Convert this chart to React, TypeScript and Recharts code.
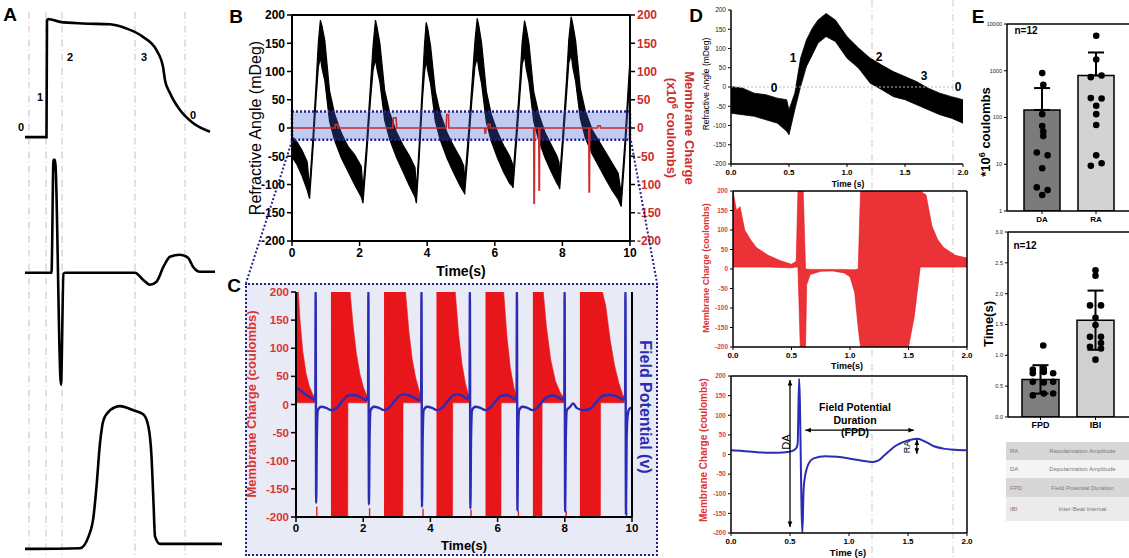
import React from "react";
import {
  ComposedChart,
  LineChart,
  Line,
  Area,
  Bar,
  Cell,
  ErrorBar,
  Scatter,
  XAxis,
  YAxis,
  ReferenceLine,
  ReferenceArea,
} from "recharts";

const FONT = '"Liberation Sans", Arial, Helvetica, sans-serif';

// ---------- panel A : schematic traces (time in ms) ----------
const aPhaseTimes = [8, 42, 74, 220, 320];
const apTime = [0, 43, 44, 47, 70, 116, 170, 203, 236, 263, 276, 280, 290, 310, 336, 370];
const apMv = [-90, -90, 20, 21, 18.4, 16.9, 16.2, 12.2, 4.3, -8.2, -23.9, -36.4, -48.6, -64.6, -76.8, -85];
const fpTime = [0, 53, 57, 60, 72, 77, 80, 220, 236, 250, 263, 277, 290, 310, 326, 336, 350, 380];
const fpMv = [0, 0, 1.13, 1.13, -1.12, -0.01, 0, 0, -0.07, -0.12, -0.09, 0.06, 0.16, 0.18, 0.15, 0.06, 0.01, 0.01];
const caTime = [0, 110, 127, 137, 143, 150, 157, 170, 190, 217, 237, 247, 253, 257, 260, 270, 394];
const caRatio = [0, 0.005, 0.088, 0.23, 0.445, 0.755, 0.92, 0.99, 1.02, 0.99, 0.96, 0.87, 0.66, 0.33, 0.09, 0.036, 0.036];

// ---------- panel B : refractive angle envelope + membrane charge ----------
const bTime = [
  0, 0.15, 0.3, 0.45, 0.52, 0.62, 0.72, 0.78, 0.84, 0.89, 0.97, 1.11, 1.26, 1.46, 1.66, 1.85, 2.05, 2.1,
  2.2, 2.32, 2.4, 2.47, 2.52, 2.6, 2.74, 2.89, 3.09, 3.29, 3.48, 3.64, 3.68,
  3.76, 3.86, 3.92, 3.97, 4.02, 4.1, 4.24, 4.39, 4.59, 4.79, 4.98, 5.08, 5.11,
  5.2, 5.32, 5.41, 5.48, 5.53, 5.61, 5.75, 5.9, 6.08, 6.26, 6.44, 6.52, 6.54,
  6.62, 6.74, 6.81, 6.88, 6.93, 7.01, 7.15, 7.3, 7.48, 7.66, 7.84, 7.9, 7.92,
  8.0, 8.12, 8.19, 8.26, 8.31, 8.39, 8.53, 8.68, 8.88, 9.08, 9.28, 9.48, 9.65, 9.74,
  9.85, 10.0,
];
const bLow = [
  -51, -65, -85, -110, -125, -38, 58, 108, 125, 105, 84, 12, -22, -53, -77, -100, -122, -133,
  -56, 48, 103, 122, 103, 81, 14, -20, -52, -78, -103, -122, -133,
  -56, 51, 98, 120, 100, 78, 12, -22, -54, -80, -103, -113, -116,
  -49, 48, 108, 125, 103, 78, 10, -24, -53, -78, -98, -103, -106,
  -42, 56, 113, 128, 105, 81, 12, -22, -52, -76, -98, -104, -108,
  -44, 56, 116, 130, 107, 83, 17, -18, -46, -68, -90, -111, -126, -139,
  -46, 94,
];
const bHigh = [
  -15, -25, -40, -60, -105, -16, 86, 152, 191, 180, 155, 66, 25, -9, -33, -47, -68, -108,
  -34, 74, 147, 191, 177, 150, 67, 27, -7, -31, -50, -70, -110,
  -34, 79, 147, 187, 175, 145, 65, 25, -9, -33, -53, -67, -94,
  -26, 74, 152, 194, 180, 150, 65, 23, -7, -31, -50, -63, -83,
  -20, 82, 152, 190, 177, 150, 65, 25, -7, -29, -50, -61, -86,
  -22, 84, 157, 197, 183, 155, 70, 30, -3, -23, -43, -63, -80, -116,
  -24, 124,
];
const bRedTime = [
  0, 1.27, 1.28, 1.36, 1.37, 2.98, 3.0, 3.08, 3.1, 4.56, 4.58, 4.63, 4.64, 5.7, 5.71, 5.73, 5.74,
  5.79, 5.8, 5.86, 5.87, 7.15, 7.16, 7.17, 7.18, 7.3, 7.31, 7.32, 7.33, 8.78, 8.79, 8.8, 8.81,
  9.04, 9.05, 9.12, 9.13, 10,
];
const bRedCharge = [
  0, 0, 6, 6, 0, 0, 18, 18, 0, 0, 24, 24, 0, 0, -9, -9, 0,
  0, 7, 7, 0, 0, -133, -133, 0, 0, -110, -110, 0, 0, -113, -113, 0,
  0, 4, 4, 0, 0,
];
const chargeTicks = [-200, -150, -100, -50, 0, 50, 100, 150, 200];
const bTimeTicks = [0, 2, 4, 6, 8, 10];

// ---------- panel C : membrane charge bands [t, low, high] + field potential ----------
const cChargeBands: [number, number | null, number | null][] = [
  [0, 3, 200], [0.07, 3, 200], [0.12, 3, 150], [0.2, 3, 95], [0.3, 3, 55], [0.4, 3, 32], [0.5, 3, 18], [0.56, 3, 12], [0.565, null, null],
  [0.6, -200, -182], [0.64, -200, -182], [0.645, null, null],
  [1.04, -200, 200], [1.54, -200, 200], [1.545, 3, 200], [1.61, 3, 200], [1.7, 3, 140], [1.8, 3, 90], [1.9, 3, 55], [2.0, 3, 32], [2.12, 3, 14], [2.125, null, null],
  [2.17, -200, -185], [2.21, -200, -185], [2.215, null, null],
  [2.62, -200, 200], [3.18, -200, 200], [3.185, 3, 200], [3.26, 3, 200], [3.36, 3, 130], [3.46, 3, 80], [3.56, 3, 48], [3.66, 3, 26], [3.72, 3, 12], [3.725, null, null],
  [3.76, -200, -186], [3.8, -200, -186], [3.805, null, null],
  [4.18, -200, 200], [4.66, -200, 200], [4.665, 3, 200], [4.74, 3, 200], [4.84, 3, 125], [4.94, 3, 72], [5.04, 3, 38], [5.15, 3, 14], [5.155, null, null],
  [5.19, -200, -188], [5.23, -200, -188], [5.235, null, null],
  [5.64, -200, 200], [6.1, -200, 200], [6.105, 3, 200], [6.18, 3, 200], [6.28, 3, 120], [6.38, 3, 65], [6.48, 3, 32], [6.56, 3, 14], [6.565, null, null],
  [6.6, -200, -190], [6.64, -200, -190], [6.645, null, null],
  [7.05, -200, 200], [7.32, -200, 200], [7.325, 3, 200], [7.36, 3, 200], [7.45, 3, 140], [7.58, 3, 80], [7.72, 3, 42], [7.86, 3, 22], [7.98, 3, 10], [7.985, null, null],
  [8.02, -200, -190], [8.06, -200, -190], [8.065, null, null],
  [8.45, -200, 200], [9.06, -200, 200], [9.065, 3, 200], [9.12, 3, 200], [9.22, 3, 175], [9.35, 3, 115], [9.48, 3, 70], [9.6, 3, 40], [9.72, 3, 18], [9.78, 3, 10], [9.785, null, null],
  [9.82, -200, -190], [9.86, -200, -190], [9.865, null, null],
];
const cFieldPotential: [number, number][] = [
  [0, 30], [0.15, 24], [0.3, 17], [0.45, 12], [0.55, 9], [0.575, 20], [0.585, 200], [0.6, -175], [0.62, -60], [0.65, -10],
  [0.75, -4], [0.9, -6], [1.05, -10], [1.2, -7], [1.35, 4], [1.5, 14], [1.65, 17], [1.8, 16], [1.95, 12], [2.1, 8],
  [2.145, 18], [2.155, 200], [2.17, -178], [2.19, -60], [2.22, -10], [2.32, -4], [2.47, -6], [2.62, -10], [2.77, -6], [2.92, 5],
  [3.07, 15], [3.22, 18], [3.37, 16], [3.52, 12], [3.68, 8], [3.725, 18], [3.735, 200], [3.75, -182], [3.77, -60], [3.8, -10],
  [3.9, -4], [4.05, -6], [4.2, -10], [4.35, -6], [4.5, 5], [4.65, 15], [4.8, 18], [4.95, 16], [5.08, 10], [5.165, 18],
  [5.175, 200], [5.19, -185], [5.21, -60], [5.24, -10], [5.34, -4], [5.49, -6], [5.64, -10], [5.79, -5], [5.94, 6], [6.09, 15],
  [6.24, 17], [6.39, 14], [6.52, 9], [6.565, 18], [6.575, 200], [6.59, -188], [6.61, -60], [6.64, -10], [6.74, -4], [6.89, -6],
  [7.04, -10], [7.19, -5], [7.34, 6], [7.49, 14], [7.64, 16], [7.79, 13], [7.93, 9], [7.985, 18], [7.995, 200], [8.01, -190],
  [8.03, -60], [8.06, -10], [8.16, -4], [8.25, 2], [8.35, -6], [8.55, -10], [8.75, -8], [8.95, 5], [9.15, 16], [9.35, 17],
  [9.55, 14], [9.75, 9], [9.795, 18], [9.805, 200], [9.82, -195], [9.84, -60], [9.87, -20], [9.92, -8], [10, -5],
];

// ---------- panel D : single beat ----------
const dRefraction: [number, number, number][] = [
  [0, -68, 1], [0.1, -72, -3], [0.2, -76, -16], [0.3, -85, -20], [0.4, -94, -29], [0.48, -115, -33], [0.5, -124, -59],
  [0.55, -59, -16], [0.6, 1, 75], [0.65, 53, 122], [0.7, 83, 152], [0.75, 114, 174], [0.82, 131, 191], [0.9, 118, 174],
  [1.0, 75, 131], [1.1, 49, 101], [1.2, 10, 75], [1.3, -7, 57], [1.4, -25, 40], [1.5, -33, 27], [1.6, -46, 14],
  [1.7, -59, -3], [1.8, -72, -16], [1.9, -81, -25], [2.0, -94, -33],
];
const dCharge: [number, number, number][] = [
  [0, 5, 200], [0.03, 5, 150], [0.06, 5, 160], [0.1, 5, 100], [0.15, 5, 75], [0.2, 5, 55], [0.3, 5, 35], [0.4, 4, 22],
  [0.5, 3, 12], [0.54, 5, 20], [0.555, 5, 200], [0.575, -200, 200], [0.6, -200, 200], [0.62, -200, 0], [0.63, -40, 0],
  [0.66, -14, -1], [0.75, -6, -1], [0.85, -5, -1], [0.95, -10, -1], [1.0, -20, -2], [1.04, -60, -2], [1.07, -150, 0],
  [1.09, -200, 200], [1.5, -200, 200], [1.55, -120, 200], [1.6, 5, 200], [1.65, 5, 190], [1.7, 5, 110], [1.75, 5, 75],
  [1.8, 5, 55], [1.9, 5, 35], [2.0, 5, 28],
];
const dField: [number, number][] = [
  [0, 10.6], [0.1, 9], [0.2, 6.4], [0.3, 4.7], [0.4, 4.7], [0.48, 6.4], [0.53, 10.6], [0.555, 17], [0.565, 28],
  [0.577, 193], [0.605, -200], [0.615, -90], [0.625, -60], [0.64, -38], [0.66, -22], [0.7, -10], [0.8, -4.3], [0.9, -6],
  [1.0, -10], [1.1, -15], [1.2, -19], [1.25, -15], [1.3, -2], [1.4, 23], [1.5, 36], [1.58, 40], [1.65, 32], [1.72, 21],
  [1.8, 15], [1.9, 12], [2.0, 10.6],
];
const dTimeTicks = [0, 0.5, 1, 1.5, 2];

// ---------- panel E : summary bars ----------
const eTopCats = ["DA", "RA"];
const eTopMean = [145, 794];
const eTopSdUp = [281, 1666];
const daDots = [890, 500, 118, 66, 50, 40, 17.8, 15.5, 8.2, 3.2, 2.8, 2.2];
const raDots = [5600, 1730, 730, 790, 260, 255, 178, 118, 69, 15.5, 9.3, 10.5];
const daJitter = [0, 0.02, 0, 0, 0.02, 0.02, -0.1, 0.1, 0, -0.1, 0.1, 0];
const raJitter = [0, 0, -0.1, 0.1, -0.1, 0.1, 0, 0, 0, 0, -0.1, 0.1];
const eBotCats = ["FPD", "IBI"];
const eBotMean = [0.61, 1.57];
const eBotSd = [0.23, 0.48];
const fpdDots = [1.16, 0.77, 0.78, 0.71, 0.73, 0.71, 0.57, 0.56, 0.57, 0.35, 0.38, 0.38];
const ibiDots = [2.38, 2.29, 1.81, 1.81, 1.61, 1.49, 1.3, 1.3, 1.2, 1.14, 1.11, 0.93];
const fpdJitter = [0.05, -0.14, 0.06, -0.14, 0.06, 0.23, -0.14, 0.06, 0.23, -0.14, 0.06, 0.23];
const ibiJitter = [0, 0, -0.1, 0.1, 0, 0, -0.1, 0.1, 0.1, -0.1, 0.1, 0];
const tableRows = [
  ["RA", "Repolarization Amplitude"],
  ["DA", "Depolarization Amplitude"],
  ["FPD", "Field Potential Duration"],
  ["IBI", "Inter-Beat Interval"],
];

// ---------- row builders ----------
const aRows = [
  ...apTime.map((t, i) => ({ t, ap: apMv[i] })),
  ...fpTime.map((t, i) => ({ t, fp: fpMv[i] })),
  ...caTime.map((t, i) => ({ t, ca: caRatio[i] })),
].sort((a, b) => a.t - b.t);
const bRows = bTime.map((t, i) => ({ t, band: [bLow[i], bHigh[i]] }));
const bRedRows = bRedTime.map((t, i) => ({ t, q: bRedCharge[i] }));
const bandRows = (list: [number, number | null, number | null][]) =>
  list.map(([t, lo, hi]) => ({ t, band: lo == null ? null : [lo, hi] }));
const cRows = bandRows(cChargeBands);
const cFpRows = cFieldPotential.map(([t, v]) => ({ t, v }));
const dTopRows = bandRows(dRefraction);
const dMidRows = bandRows(dCharge);
const dBotRows = dField.map(([t, v]) => ({ t, v }));
const eTopRows = eTopCats.map((name, i) => ({ x: i + 1, name, mean: eTopMean[i], err: [0, eTopSdUp[i]] }));
const eBotRows = eBotCats.map((name, i) => ({ x: i + 1, name, mean: eBotMean[i], err: eBotSd[i] }));
const daPts = daDots.map((y, i) => ({ x: 1 + daJitter[i], y }));
const raPts = raDots.map((y, i) => ({ x: 2 + raJitter[i], y }));
const fpdPts = fpdDots.map((y, i) => ({ x: 1 + fpdJitter[i], y }));
const ibiPts = ibiDots.map((y, i) => ({ x: 2 + ibiJitter[i], y }));

const RED = "#cc2d2d";
const BRIGHT_RED = "#e8161b";
const BLUE = "#2b2bb5";
const NAVY = "#23238a";

const tk = (size: number, fill = "#000", fontWeight: number = 700) => ({ fontSize: size, fill, fontWeight, fontFamily: FONT });
const axLine = (w = 2) => ({ stroke: "#000", strokeWidth: w });

const Txt = ({ x, y, size = 12, color = "#000", weight = 700, rotate = 0, children }: any) => (
  <div
    style={{
      position: "absolute",
      left: x,
      top: y,
      transform: `translate(-50%, -50%) rotate(${rotate}deg)`,
      fontSize: size,
      color,
      fontWeight: weight,
      whiteSpace: "nowrap",
      lineHeight: 1,
      fontFamily: FONT,
    }}
  >
    {children}
  </div>
);

const Dot = (p: any) => <circle cx={p.cx} cy={p.cy} r={3.3} fill="#000" />;

// line with arrow heads at both ends (annotation in D)
const Arrow = (p: any) => {
  const { x1, y1, x2, y2 } = p;
  const a = Math.atan2(y2 - y1, x2 - x1);
  const head = (x: number, y: number, ang: number) => {
    const s = 6;
    return `${x},${y} ${x - s * Math.cos(ang - 0.4)},${y - s * Math.sin(ang - 0.4)} ${x - s * Math.cos(ang + 0.4)},${y - s * Math.sin(ang + 0.4)}`;
  };
  return (
    <g>
      <line x1={x1} y1={y1} x2={x2} y2={y2} stroke="#000" strokeWidth={1.3} />
      <polygon points={head(x2, y2, a)} fill="#000" />
      <polygon points={head(x1, y1, a + Math.PI)} fill="#000" />
    </g>
  );
};

const Abs = ({ x, y, children }: any) => <div style={{ position: "absolute", left: x, top: y }}>{children}</div>;

export default function App() {
  return (
    <div
      style={{
        position: "absolute",
        left: 0,
        top: 0,
        width: 1129,
        height: 558,
        overflow: "hidden",
        background: "#fff",
        fontFamily: FONT,
      }}
    >
      {/* guide lines across panel D */}
      <svg width={1129} height={558} style={{ position: "absolute", left: 0, top: 0 }}>
        <line x1={872} y1={0} x2={872} y2={558} stroke="#cbcbcb" strokeWidth={1} strokeDasharray="7 3 1 3" />
        <line x1={953} y1={0} x2={953} y2={558} stroke="#cbcbcb" strokeWidth={1} strokeDasharray="7 3 1 3" />
      </svg>

      {/* C zoom box background */}
      <div
        style={{
          position: "absolute",
          left: 245,
          top: 283,
          width: 413,
          height: 273,
          background: "#e8ebf6",
          border: `2px dotted ${NAVY}`,
          boxSizing: "border-box",
        }}
      />

      {/* ---------------- A ---------------- */}
      <Abs x={0} y={0}>
        <LineChart data={aRows} width={230} height={558} margin={{ top: 0, right: 0, bottom: 0, left: 0 }}>
          <XAxis type="number" dataKey="t" domain={[-50, 410]} hide />
          <YAxis yAxisId="ap" hide domain={[-486, 39]} />
          <YAxis yAxisId="fp" hide domain={[-2.853, 2.727]} />
          <YAxis yAxisId="ca" hide domain={[-0.065, 3.921]} />
          {aPhaseTimes.map((g) => (
            <ReferenceLine
              key={g}
              yAxisId="ap"
              segment={[{ x: g, y: 28 }, { x: g, y: -486 }]}
              stroke="#c2c2c2"
              strokeWidth={1}
              strokeDasharray="7 3 1 3"
            />
          ))}
          <Line yAxisId="ap" dataKey="ap" connectNulls type="monotone" stroke="#000" strokeWidth={2.6} dot={false} activeDot={false} isAnimationActive={false} />
          <Line yAxisId="fp" dataKey="fp" connectNulls type="monotone" stroke="#000" strokeWidth={2.6} dot={false} activeDot={false} isAnimationActive={false} />
          <Line yAxisId="ca" dataKey="ca" connectNulls type="monotone" stroke="#000" strokeWidth={2.6} dot={false} activeDot={false} isAnimationActive={false} />
        </LineChart>
      </Abs>
      <Txt x={10} y={14} size={19}>A</Txt>
      <Txt x={21} y={127} size={11}>0</Txt>
      <Txt x={40} y={97} size={11}>1</Txt>
      <Txt x={70} y={57} size={11}>2</Txt>
      <Txt x={144} y={57} size={11}>3</Txt>
      <Txt x={193} y={115} size={11}>0</Txt>

      {/* ---------------- B ---------------- */}
      <Abs x={230} y={0}>
        <ComposedChart width={450} height={280} margin={{ top: 15, right: 10, bottom: 9, left: 22 }}>
          <XAxis
            type="number"
            dataKey="t"
            domain={[0, 10]}
            ticks={bTimeTicks}
            height={30}
            allowDataOverflow
            axisLine={axLine(2)}
            tickLine={axLine(1.5)}
            tickSize={5}
            tick={tk(12)}
          />
          <YAxis
            yAxisId="l"
            domain={[-200, 200]}
            ticks={chargeTicks}
            width={40}
            allowDataOverflow
            axisLine={axLine(2)}
            tickLine={axLine(1.5)}
            tickSize={5}
            tick={tk(12)}
          />
          <YAxis
            yAxisId="r"
            orientation="right"
            domain={[-200, 200]}
            ticks={chargeTicks}
            width={40}
            allowDataOverflow
            axisLine={axLine(2)}
            tickLine={axLine(1.5)}
            tickSize={5}
            tick={tk(12, RED)}
          />
          <ReferenceLine yAxisId="l" y={200} stroke="#000" strokeWidth={2} />
          <Area yAxisId="l" data={bRows} dataKey="band" type="linear" fill="#000" fillOpacity={1} stroke="#000" strokeWidth={1.2} isAnimationActive={false} />
          <Line yAxisId="r" data={bRedRows} dataKey="q" type="linear" stroke={RED} strokeWidth={1.6} dot={false} isAnimationActive={false} />
          <ReferenceArea
            yAxisId="l"
            x1={0}
            x2={10}
            y1={-21}
            y2={29}
            fill="#3d5bd4"
            fillOpacity={0.32}
            stroke={NAVY}
            strokeWidth={2.5}
            strokeDasharray="2 2"
            ifOverflow="visible"
          />
        </ComposedChart>
      </Abs>
      <Txt x={236} y={16} size={19}>B</Txt>
      <Txt x={256} y={128} size={16} weight={400} rotate={-90}>Refractive Angle (mDeg)</Txt>
      <Txt x={461} y={271} size={14}>Time(s)</Txt>
      <Txt x={689} y={128} size={13} color={RED} rotate={90}>Membrane Charge</Txt>
      <Txt x={672} y={128} size={13} color={RED} rotate={90}>
        (x10<sup style={{ fontSize: 9 }}>6</sup> coulombs)
      </Txt>

      {/* ---------------- C ---------------- */}
      <Abs x={245} y={283}>
        <ComposedChart width={413} height={272} margin={{ top: 9, right: 25, bottom: 18, left: 15 }}>
          <XAxis
            type="number"
            dataKey="t"
            domain={[0, 10]}
            ticks={bTimeTicks}
            height={20}
            allowDataOverflow
            axisLine={axLine(2)}
            tickLine={axLine(1.5)}
            tickSize={5}
            tick={tk(11.5)}
          />
          <YAxis
            yAxisId="l"
            domain={[-200, 200]}
            ticks={chargeTicks}
            width={36}
            allowDataOverflow
            axisLine={axLine(2)}
            tickLine={axLine(1.5)}
            tickSize={5}
            tick={tk(11.5, "#d33")}
          />
          <YAxis yAxisId="r" orientation="right" domain={[-200, 200]} width={1} tick={false} tickLine={false} axisLine={axLine(2)} allowDataOverflow />
          <Area yAxisId="l" data={cRows} dataKey="band" type="linear" fill={BRIGHT_RED} fillOpacity={1} stroke={BRIGHT_RED} strokeWidth={0.6} isAnimationActive={false} />
          <Line yAxisId="r" data={cFpRows} dataKey="v" type="monotone" stroke={BLUE} strokeWidth={2.4} dot={false} isAnimationActive={false} />
        </ComposedChart>
      </Abs>
      <Txt x={234} y={285} size={19}>C</Txt>
      <Txt x={251} y={404} size={13} color="#d33" rotate={-90}>Membrane Charge (coulombs)</Txt>
      <Txt x={645} y={407} size={16} color={BLUE} rotate={90}>Field Potential (v)</Txt>
      <Txt x={464} y={545} size={13}>Time(s)</Txt>

      {/* ---------------- D top ---------------- */}
      <Abs x={690} y={0}>
        <ComposedChart width={290} height={190} margin={{ top: 10, right: 17, bottom: 12, left: 13 }}>
          <XAxis
            type="number"
            dataKey="t"
            domain={[0, 2]}
            ticks={dTimeTicks}
            tickFormatter={(v: number) => v.toFixed(1)}
            height={14}
            allowDataOverflow
            axisLine={axLine(1.5)}
            tickLine={axLine(1)}
            tickSize={3}
            tick={tk(8)}
          />
          <YAxis
            domain={[-200, 200]}
            ticks={chargeTicks}
            width={28}
            allowDataOverflow
            axisLine={axLine(1.5)}
            tickLine={axLine(1)}
            tickSize={3}
            tick={tk(6.5, "#222", 400)}
          />
          <ReferenceLine y={0} stroke="#bbb" strokeDasharray="2 2" />
          <Area data={dTopRows} dataKey="band" type="linear" fill="#000" fillOpacity={1} stroke="#000" strokeWidth={0.8} isAnimationActive={false} />
        </ComposedChart>
      </Abs>
      <Txt x={696} y={15} size={19}>D</Txt>
      <Txt x={706} y={84} size={8.5} weight={400} rotate={-90}>Refractive Angle (mDeg)</Txt>
      <Txt x={848} y={184} size={8.5}>Time (s)</Txt>
      <Txt x={774} y={88} size={12}>0</Txt>
      <Txt x={793} y={58} size={12}>1</Txt>
      <Txt x={879} y={57} size={12}>2</Txt>
      <Txt x={924} y={76} size={12}>3</Txt>
      <Txt x={958} y={87} size={12}>0</Txt>

      {/* ---------------- D middle ---------------- */}
      <Abs x={690} y={180}>
        <ComposedChart width={290} height={190} margin={{ top: 11, right: 13, bottom: 9, left: 15 }}>
          <XAxis
            type="number"
            dataKey="t"
            domain={[0, 2]}
            ticks={dTimeTicks}
            tickFormatter={(v: number) => v.toFixed(1)}
            height={14}
            allowDataOverflow
            axisLine={axLine(1.5)}
            tickLine={axLine(1)}
            tickSize={3}
            tick={tk(8)}
          />
          <YAxis
            domain={[-200, 200]}
            ticks={chargeTicks}
            width={28}
            allowDataOverflow
            axisLine={axLine(1.5)}
            tickLine={axLine(1)}
            tickSize={3}
            tick={tk(6.5, "#d44")}
          />
          <Area data={dMidRows} dataKey="band" type="linear" fill={BRIGHT_RED} fillOpacity={0.88} stroke={BRIGHT_RED} strokeWidth={0.6} isAnimationActive={false} />
          <ReferenceLine y={200} stroke="#000" strokeWidth={1.5} />
          <ReferenceLine x={2} stroke="#000" strokeWidth={1.5} />
        </ComposedChart>
      </Abs>
      <Txt x={706} y={268} size={9} color="#d33" rotate={-90}>Membrane Charge (coulombs)</Txt>
      <Txt x={847} y={366} size={9}>Time(s)</Txt>

      {/* ---------------- D bottom ---------------- */}
      <Abs x={690} y={360}>
        <ComposedChart width={290} height={198} margin={{ top: 16, right: 13, bottom: 11, left: 13 }}>
          <XAxis
            type="number"
            dataKey="t"
            domain={[0, 2]}
            ticks={dTimeTicks}
            tickFormatter={(v: number) => v.toFixed(1)}
            height={14}
            allowDataOverflow
            axisLine={axLine(1.5)}
            tickLine={axLine(1)}
            tickSize={3}
            tick={tk(8)}
          />
          <YAxis
            domain={[-200, 200]}
            ticks={chargeTicks}
            width={28}
            allowDataOverflow
            axisLine={axLine(1.5)}
            tickLine={axLine(1)}
            tickSize={3}
            tick={tk(6.5, "#d44")}
          />
          <ReferenceLine y={200} stroke="#000" strokeWidth={1.5} />
          <ReferenceLine x={2} stroke="#000" strokeWidth={1.5} />
          <Line data={dBotRows} dataKey="v" type="monotone" stroke={BLUE} strokeWidth={2} dot={false} isAnimationActive={false} />
          <ReferenceLine segment={[{ x: 0.5, y: 190 }, { x: 0.5, y: -185 }]} shape={Arrow} />
          <ReferenceLine segment={[{ x: 0.63, y: 62 }, { x: 1.55, y: 62 }]} shape={Arrow} />
          <ReferenceLine segment={[{ x: 1.575, y: 38 }, { x: 1.575, y: 2 }]} shape={Arrow} />
        </ComposedChart>
      </Abs>
      <Txt x={704} y={450} size={10} color="#d33" rotate={-90}>Membrane Charge (coulombs)</Txt>
      <Txt x={848} y={553} size={9.5}>Time (s)</Txt>
      <Txt x={786} y={442} size={11} weight={400} rotate={-90}>DA</Txt>
      <Txt x={855} y={407} size={10.5}>Field Potential</Txt>
      <Txt x={855} y={420} size={10.5}>Duration</Txt>
      <Txt x={855} y={432} size={10.5}>(FPD)</Txt>
      <Txt x={907} y={447} size={9} weight={400} rotate={-90}>RA</Txt>

      {/* ---------------- E top ---------------- */}
      <Abs x={960} y={0}>
        <ComposedChart data={eTopRows} width={190} height={225} margin={{ top: 24, right: 0, bottom: 0, left: 15 }}>
          <XAxis
            xAxisId="cat"
            type="category"
            dataKey="name"
            padding={{ left: 8, right: 27 }}
            height={14}
            axisLine={axLine(1.5)}
            tickLine={axLine(1)}
            tickSize={3}
            tick={tk(8)}
          />
          <XAxis xAxisId="num" type="number" dataKey="x" domain={[0.348, 2.996]} hide allowDataOverflow />
          <YAxis
            scale="log"
            domain={[1, 10000]}
            ticks={[1, 10, 100, 1000, 10000]}
            width={32}
            allowDataOverflow
            axisLine={axLine(1.5)}
            tickLine={axLine(1)}
            tickSize={3}
            tick={tk(5.5, "#222", 400)}
          />
          <ReferenceLine xAxisId="cat" y={10000} stroke="#000" strokeWidth={1.5} />
          <Bar xAxisId="cat" dataKey="mean" barSize={36} stroke="#000" strokeWidth={1.5} isAnimationActive={false}>
            {eTopRows.map((r, i) => (
              <Cell key={r.name} fill={i === 0 ? "#7b7b7b" : "#d3d3d3"} />
            ))}
            <ErrorBar dataKey="err" direction="y" width={8} stroke="#000" strokeWidth={2} />
          </Bar>
          <Scatter xAxisId="num" data={daPts} dataKey="y" shape={Dot} isAnimationActive={false} />
          <Scatter xAxisId="num" data={raPts} dataKey="y" shape={Dot} isAnimationActive={false} />
        </ComposedChart>
      </Abs>
      <Txt x={978} y={16} size={19}>E</Txt>
      <Txt x={1026} y={31} size={10}>n=12</Txt>
      <Txt x={985} y={132} size={13} rotate={-90}>
        *10<sup style={{ fontSize: 9 }}>6</sup> coulombs
      </Txt>

      {/* ---------------- E bottom ---------------- */}
      <Abs x={960} y={220}>
        <ComposedChart data={eBotRows} width={190} height={220} margin={{ top: 12, right: 0, bottom: 3, left: 15 }}>
          <XAxis
            xAxisId="cat"
            type="category"
            dataKey="name"
            padding={{ left: 5, right: 27 }}
            height={20}
            axisLine={axLine(1.5)}
            tickLine={axLine(1)}
            tickSize={3}
            tick={tk(9)}
          />
          <XAxis xAxisId="num" type="number" dataKey="x" domain={[0.409, 2.991]} hide allowDataOverflow />
          <YAxis
            domain={[0, 3]}
            ticks={[0, 0.5, 1, 1.5, 2, 2.5, 3]}
            tickFormatter={(v: number) => v.toFixed(1)}
            width={33}
            allowDataOverflow
            axisLine={axLine(1.5)}
            tickLine={axLine(1)}
            tickSize={3}
            tick={tk(5.5, "#222", 400)}
          />
          <ReferenceLine xAxisId="cat" y={3} stroke="#000" strokeWidth={1.5} />
          <Bar xAxisId="cat" dataKey="mean" barSize={37} stroke="#000" strokeWidth={1.5} isAnimationActive={false}>
            {eBotRows.map((r, i) => (
              <Cell key={r.name} fill={i === 0 ? "#7f7f7f" : "#d0d0d0"} />
            ))}
            <ErrorBar dataKey="err" direction="y" width={8} stroke="#000" strokeWidth={2} />
          </Bar>
          <Scatter xAxisId="num" data={fpdPts} dataKey="y" shape={Dot} isAnimationActive={false} />
          <Scatter xAxisId="num" data={ibiPts} dataKey="y" shape={Dot} isAnimationActive={false} />
        </ComposedChart>
      </Abs>
      <Txt x={1025} y={246} size={10}>n=12</Txt>
      <Txt x={988} y={324} size={13} rotate={-90}>Time(s)</Txt>

      {/* E legend table */}
      <div style={{ position: "absolute", left: 1006, top: 442, width: 123, fontSize: 6, color: "#777", fontFamily: FONT }}>
        {tableRows.map((r, i) => (
          <div
            key={r[0]}
            style={{
              display: "flex",
              alignItems: "center",
              height: [18, 18, 19, 24][i],
              background: ["#d7d7d7", "#f4f4f4", "#d7d7d7", "#ebebeb"][i],
            }}
          >
            <div style={{ width: 26, paddingLeft: 4 }}>{r[0]}</div>
            <div style={{ flex: 1, textAlign: "center" }}>{r[1]}</div>
          </div>
        ))}
      </div>

      {/* dotted connectors from the B box to the C box */}
      <svg width={1129} height={558} style={{ position: "absolute", left: 0, top: 0, pointerEvents: "none" }}>
        <line x1={292} y1={141} x2={246} y2={283} stroke={NAVY} strokeWidth={2} strokeDasharray="2 2" />
        <line x1={631} y1={141} x2={657} y2={283} stroke={NAVY} strokeWidth={2} strokeDasharray="2 2" />
      </svg>
    </div>
  );
}
